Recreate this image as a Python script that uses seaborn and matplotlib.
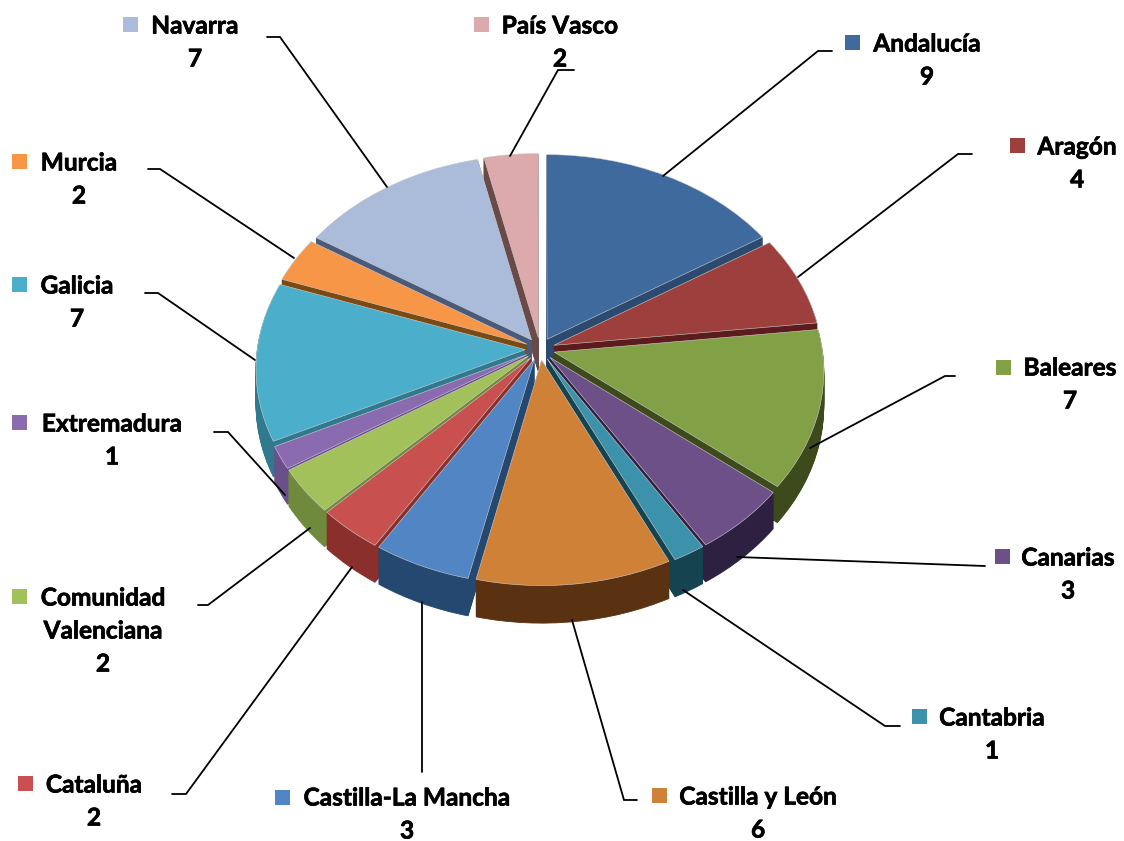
import matplotlib
matplotlib.use('Agg')
import matplotlib.pyplot as plt
import matplotlib.patheffects as pe
import numpy as np
import seaborn as sns
from matplotlib.patches import Rectangle
from matplotlib.transforms import Transform

regions = ['Andalucía', 'Aragón', 'Baleares', 'Canarias', 'Cantabria', 'Castilla y León',
           'Castilla-La Mancha', 'Cataluña', 'Comunidad\nValenciana', 'Extremadura',
           'Galicia', 'Murcia', 'Navarra', 'País Vasco']
counts = [9, 4, 7, 3, 1, 6, 3, 2, 2, 1, 7, 2, 7, 2]
top_colors = ['#3f6a9e', '#9d3f3c', '#82a045', '#6e5089', '#3b92aa', '#cf8137', '#5285c4',
              '#c8504e', '#a3c15a', '#8a6bb0', '#4bafcb', '#f79646', '#abbbda', '#dcaaaa']
side_colors = ['#2c4a70', '#5c1c1e', '#3c4a1c', '#2e2040', '#15434f', '#5a3212', '#254870',
               '#8a2f2c', '#6f8a3c', '#6a4f8a', '#2f7a8f', '#7a4a14', '#4a5a78', '#6a4a48']

# layout, all in figure pixels
explode = [0.055] * 14
squares = [(845, 35), (1010, 138), (996, 360), (995, 549), (912, 709), (652, 788), (275, 790),
           (18, 776), (12, 589), (12, 415), (12, 277), (12, 154), (123, 17), (474, 17)]
label_pos = [(927, 44), (1077, 147), (1070, 368), (1068, 558), (992, 718), (758, 797), (407, 798),
             (94, 785), (103, 598), (112, 424), (77, 286), (79, 163), (195, 26), (560, 26)]
leaders = [[(832, 51), (818, 51), (663, 176)],
           [(972, 154), (958, 154), (798, 277)],
           [(955, 376), (945, 376), (810, 448)],
           [(985, 566), (737, 557)],
           [(900, 726), (885, 726), (683, 590)],
           [(637, 800), (624, 800), (572, 620)],
           [(422, 772), (422, 602)],
           [(172, 794), (186, 794), (352, 567)],
           [(198, 605), (208, 605), (310, 528)],
           [(214, 432), (228, 432), (285, 495)],
           [(145, 293), (158, 293), (255, 360)],
           [(148, 169), (160, 169), (294, 258)],
           [(267, 37), (280, 37), (387, 187)],
           [(574, 70), (558, 70), (510, 156)]]
line_gap = 33


class Tilt(Transform):
    # unit pie plane -> pixels, with a bit of perspective so the front looks bigger
    input_dims = 2
    output_dims = 2
    is_separable = False
    has_inverse = False

    def __init__(self, z=0.0, cx=540, cy=349, rx=268, ry=203, k=0.09):
        super().__init__()
        self.z, self.cx, self.cy, self.rx, self.ry, self.k = z, cx, cy, rx, ry, k

    def transform_non_affine(self, values):
        values = np.asarray(values, dtype=float)
        s = 1 / (1 + self.k * values[:, 1])
        return np.column_stack([self.cx + self.rx * values[:, 0] * s,
                                self.cy - self.ry * values[:, 1] * s + self.z * s])


sns.set_theme(style='white')
plt.rcParams['font.family'] = ['Lato', 'DejaVu Sans']

fig = plt.figure(figsize=(11.24, 8.41), dpi=100)
ax = fig.add_axes([0, 0, 1, 1])


def draw_layer(colors, z, edge=None, lw=0.6):
    wedges, _ = ax.pie(counts, colors=colors, explode=explode, startangle=90, counterclock=False)
    for w in wedges:
        w.set_transform(Tilt(z) + ax.transData)
        w.set_edgecolor(edge if edge else w.get_facecolor())
        w.set_linewidth(lw)
    return wedges


# sides first, from the bottom up, then the top faces
for z in np.arange(34, 0, -1.0):
    draw_layer(side_colors, z)
draw_layer(top_colors, 0, '#cfcfcf', 0.4)

ax.set_aspect('auto')
ax.set_xlim(0, 1124)
ax.set_ylim(841, 0)
ax.set_axis_off()

thicker = [pe.withStroke(linewidth=0.5, foreground='black')]
for i, region in enumerate(regions):
    x, y = label_pos[i]
    pts = np.array(leaders[i])
    ax.plot(pts[:, 0], pts[:, 1], color='black', lw=1.3, solid_joinstyle='miter')
    ax.add_patch(Rectangle(squares[i], 15, 15, facecolor=top_colors[i], edgecolor='none'))
    for j, part in enumerate(region.split('\n') + [str(counts[i])]):
        ax.text(x, y + j * line_gap, part, ha='center', va='center', fontsize=17.6,
                fontweight='bold', color='black', path_effects=thicker)

fig.savefig('out.png', dpi=100, facecolor='white')
